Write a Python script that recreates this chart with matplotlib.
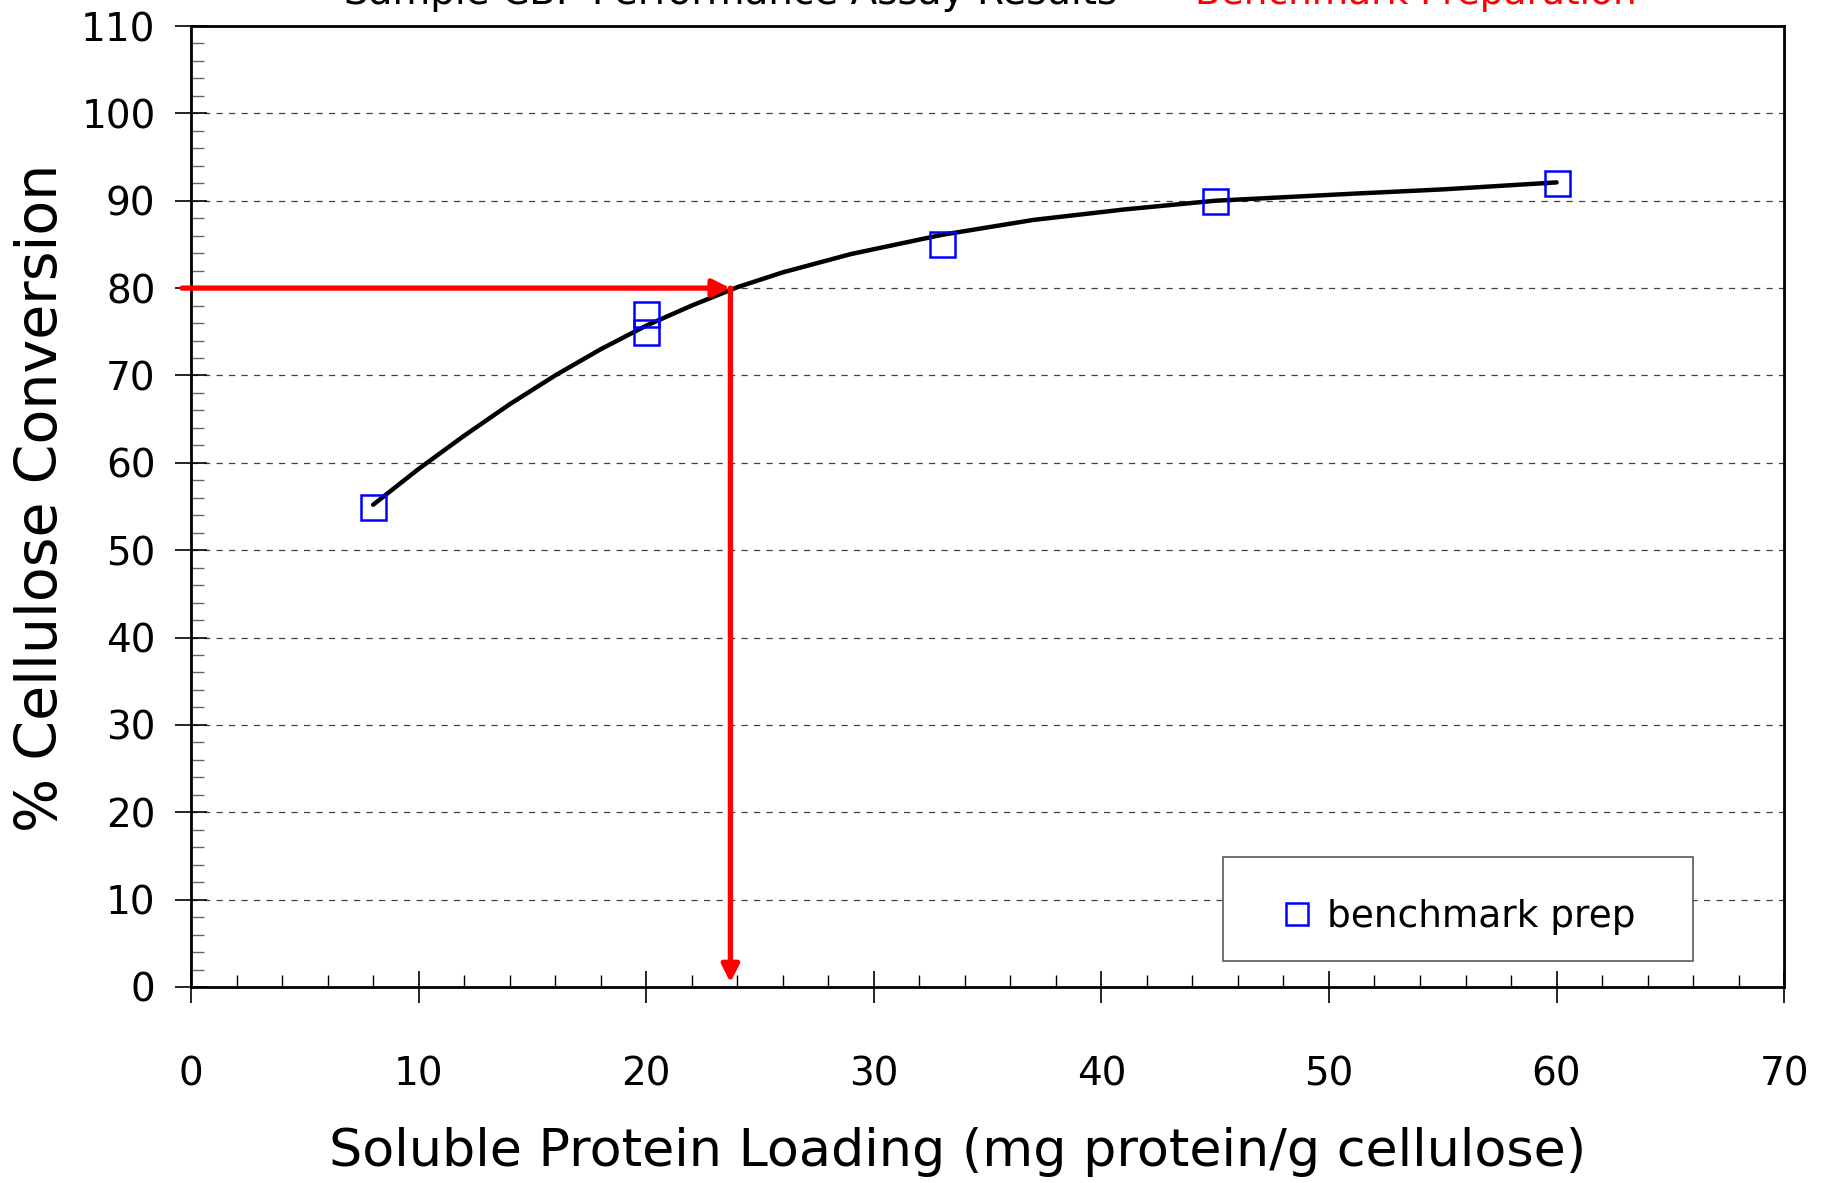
import matplotlib
matplotlib.use("Agg")
from matplotlib import pyplot as plt
from matplotlib.patches import Rectangle
from matplotlib.ticker import MultipleLocator

# measured points (mg protein / g cellulose, % conversion)
loading = [8, 20, 20, 33, 45, 60]
conversion = [55, 77, 75, 85, 90, 92]

# trend curve
trend_x = [8, 10, 12, 14, 16, 18, 20, 22, 24, 26, 29, 33, 37, 41, 45, 48, 51, 55, 60]
trend_y = [55.2, 59.3, 63.1, 66.7, 70.0, 73.0, 75.7, 78.0, 80.1, 81.8, 83.9, 86.1,
           87.8, 89.0, 90.0, 90.4, 90.8, 91.3, 92.1]

# target conversion and the loading needed for it
target_y = 80
target_x = 23.7

x_ticks = [0, 10, 20, 30, 40, 50, 60, 70]
y_ticks = [0, 10, 20, 30, 40, 50, 60, 70, 80, 90, 100, 110]

plt.rcParams['font.family'] = ['DejaVu Sans']

fig = plt.figure(figsize=(18.28, 11.83), dpi=100)
ax = fig.add_axes([0.1045, 0.1657, 0.8715, 0.8123])

ax.set_xlim(0, 70)
ax.set_ylim(0, 110)
ax.set_xticks(x_ticks)
ax.set_yticks(y_ticks)
ax.xaxis.set_minor_locator(MultipleLocator(2))
ax.yaxis.set_minor_locator(MultipleLocator(2))
ax.tick_params(axis='x', which='major', direction='inout', length=23, width=1.2,
               labelsize=28, pad=38)
ax.tick_params(axis='x', which='minor', direction='in', length=9, width=1.0)
ax.tick_params(axis='y', which='major', direction='inout', length=23, width=1.2,
               labelsize=28, pad=14)
ax.tick_params(axis='y', which='minor', direction='in', length=9, width=1.0, color='0.4')
for s in ax.spines.values():
    s.set_linewidth(2)

# dashed horizontal grid (not on the top frame)
for yv in y_ticks[1:-1]:
    ax.axhline(yv, color='0.25', lw=0.9, ls=(0, (5, 5)), zorder=1)

ax.plot(trend_x, trend_y, color='black', lw=3.2, solid_capstyle='round',
        solid_joinstyle='round', zorder=3)
ax.plot(loading, conversion, ls='none', marker='s', ms=18, mfc='none', mec='#0000ff',
        mew=1.8, zorder=4, label='benchmark prep')

# red guide arrows
arrow = dict(arrowstyle='-|>', color='red', lw=3.8, mutation_scale=26,
             shrinkA=0, shrinkB=0)
ax.annotate('', xy=(target_x, target_y), xytext=(-0.4, target_y),
            arrowprops=arrow, annotation_clip=False, zorder=5)
ax.annotate('', xy=(target_x, 0.5), xytext=(target_x, target_y),
            arrowprops=arrow, annotation_clip=False, zorder=5)

ax.set_xlabel('Soluble Protein Loading (mg protein/g cellulose)', fontsize=37.7)
ax.xaxis.set_label_coords(0.481, -0.172)
ax.xaxis.label.set_va('center')
ax.set_ylabel('% Cellulose Conversion', fontsize=41)
ax.yaxis.set_label_coords(-0.094, 0.509)
ax.yaxis.label.set_va('center')

# legend box
box = Rectangle((0.648, 0.027), 0.295, 0.108, transform=ax.transAxes,
                facecolor='white', edgecolor='0.35', lw=1.2, zorder=6)
ax.add_patch(box)
leg = ax.legend(loc='center', bbox_to_anchor=(0.7955, 0.073), frameon=False,
                fontsize=27, handlelength=0.8, handletextpad=0.4, markerscale=0.9)
leg.set_zorder(7)

# title (mostly cut off at the top of the slide, as in the original)
fig.text(344 / 1828, 0.997, 'Sample CBP Performance Assay Results', fontsize=28,
         color='black', ha='left', va='baseline')
fig.text(1195 / 1828, 0.997, 'Benchmark Preparation', fontsize=27,
         color='red', ha='left', va='baseline')

fig.savefig('out.png', dpi=100)
